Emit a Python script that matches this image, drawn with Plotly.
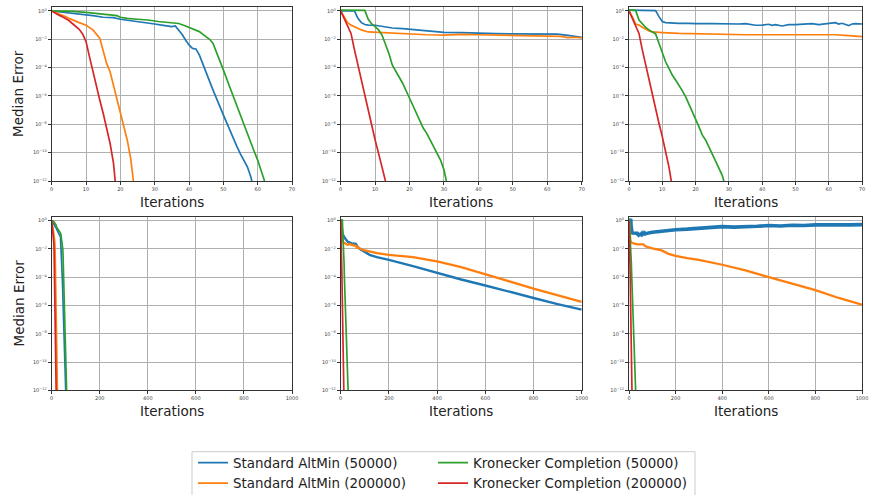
import plotly.graph_objects as go

# ---------------- data ----------------
SERIES = ["Standard AltMin (50000)", "Standard AltMin (200000)",
          "Kronecker Completion (50000)", "Kronecker Completion (200000)"]
COLORS = ["#1f77b4", "#ff7f0e", "#2ca02c", "#d62728"]
LEGEND_OF = ["legend", "legend", "legend2", "legend2"]

# column 1
c1_blue_x = [0, 2, 4, 6, 8, 10, 12, 15, 18, 20, 23, 25, 28, 30, 33, 35, 36, 37, 38, 39, 40, 41, 42, 43,
             45, 47, 50, 52, 54, 55, 56, 57, 58, 58.3]
c1_blue_y = [1.0, 0.9, 0.76, 0.69, 0.62, 0.58, 0.47, 0.36, 0.34, 0.26, 0.21, 0.19, 0.15, 0.12, 0.092,
             0.079, 0.087, 0.046, 0.022, 8.9e-3, 4.0e-3, 2.3e-3, 2.1e-3, 7.9e-4, 4.0e-5, 2.6e-6, 4.6e-8,
             3.0e-9, 2.6e-10, 8.0e-11, 2.5e-11, 1.0e-11, 2.0e-12, 1.0e-12]
c1_orange_x = [0, 1, 2, 3, 4, 5, 6, 7, 8, 10, 12, 14, 15, 16, 17, 18, 19, 20, 21, 22, 23, 23.8]
c1_orange_y = [1.0, 0.85, 0.62, 0.52, 0.4, 0.3, 0.23, 0.18, 0.15, 0.098, 0.046, 0.012, 1.3e-3, 2.0e-4,
               5.2e-5, 6.0e-6, 6.9e-7, 6.0e-8, 6.9e-9, 7.9e-10, 4.0e-11, 1.0e-12]
c1_green_x = [0, 3, 6, 10, 13, 16, 19, 20, 22, 25, 28, 31, 34, 37, 39, 41, 43, 45, 46, 47, 48, 49, 50,
              52, 54, 55, 57, 59, 60, 61, 62]
c1_green_y = [1.0, 0.98, 0.93, 0.8, 0.69, 0.58, 0.47, 0.36, 0.3, 0.26, 0.23, 0.18, 0.16, 0.13, 0.087,
              0.054, 0.035, 0.015, 0.01, 5.2e-3, 1.3e-3, 2.6e-4, 6.9e-5, 3.5e-6, 1.8e-7, 3.5e-8, 1.8e-9,
              1.2e-10, 3.0e-11, 6.0e-12, 1.0e-12]
c1_red_x = [0, 1, 2, 3, 4, 5, 6, 7, 8, 9, 10, 11, 12, 13, 14, 15, 16, 17, 18, 18.5]
c1_red_y = [1.0, 0.69, 0.52, 0.4, 0.3, 0.21, 0.13, 0.087, 0.051, 0.024, 6.9e-3, 6.0e-4, 5.2e-5, 4.6e-6,
            5.2e-7, 6.0e-8, 5.2e-9, 4.6e-10, 1.8e-11, 1.0e-12]

# column 2
c2_blue_x = [0, 2, 4, 5, 6, 7, 8, 10, 12, 15, 18, 20, 25, 30, 35, 40, 45, 50, 55, 60, 63, 66, 70,
             80, 100, 120, 150, 200, 300, 400, 500, 600, 700, 800, 900, 1000]
c2_blue_y = [1.0, 1.0, 1.0, 0.3, 0.15, 0.11, 0.1, 0.098, 0.079, 0.063, 0.056, 0.051, 0.039, 0.031,
             0.03, 0.026, 0.025, 0.024, 0.024, 0.023, 0.023, 0.019, 0.014,
             0.01, 6.6e-3, 3.8e-3, 2.6e-3, 1.7e-3, 6.0e-4, 2.0e-4, 6.9e-5, 2.6e-5, 8.9e-6, 3.4e-6,
             1.26e-6, 5.1e-7]
c2_orange_x = [0, 1, 2, 3, 4, 5, 6, 8, 10, 15, 20, 25, 30, 35, 40, 45, 50, 55, 60, 64, 66, 68, 70,
               100, 150, 200, 300, 400, 500, 600, 700, 800, 900, 1000]
c2_orange_y = [1.0, 0.4, 0.15, 0.1, 0.079, 0.06, 0.046, 0.033, 0.031, 0.026, 0.024, 0.021, 0.02, 0.022,
               0.021, 0.02, 0.019, 0.019, 0.017, 0.016, 0.013, 0.014, 0.0125,
               7.8e-3, 5.0e-3, 3.8e-3, 2.6e-3, 1.3e-3, 5.1e-4, 1.7e-4, 5.0e-5, 1.55e-5, 5.2e-6, 1.8e-6]
c2_green_x = [0, 2, 5, 7, 8, 9, 10, 11, 12, 13, 14, 15, 16, 17, 18, 20, 22, 24, 25, 27, 29, 30, 30.7]
c2_green_y = [1.15, 1.15, 1.15, 1.1, 0.26, 0.12, 0.079, 0.046, 0.02, 5.2e-3, 1.0e-3, 1.5e-4, 5.2e-5,
              2.1e-5, 7.9e-6, 6.9e-7, 6.0e-8, 5.2e-9, 2.3e-9, 2.6e-10, 3.0e-11, 6.0e-12, 1.0e-12]
c2_red_x = [0, 1, 2, 3, 4, 5, 6, 7, 8, 9, 10, 11, 12, 13]
c2_red_y = [1.0, 0.3, 0.1, 0.026, 1.8e-3, 1.5e-4, 1.3e-5, 8.9e-7, 7.9e-8, 8.9e-9, 7.9e-10, 8.9e-11,
            1.0e-11, 1.0e-12]

# column 3
c3_blue_x = [0, 2, 5, 8, 9, 10, 11, 13, 15, 18, 20, 25, 28, 30, 33, 35, 36, 38, 40, 42, 43, 44, 46, 48,
             50, 52, 55, 57, 59, 60, 62, 63, 64, 66, 67, 68, 70,
             100, 150, 200, 250, 300, 350, 400, 450, 500, 550, 600, 650, 700, 750, 800, 850, 900, 950,
             1000]
c3_blue_y = [1.15, 1.15, 1.15, 1.05, 0.4, 0.18, 0.15, 0.14, 0.135, 0.135, 0.128, 0.128, 0.12, 0.12,
             0.12, 0.128, 0.115, 0.098, 0.1, 0.115, 0.098, 0.11, 0.087, 0.11, 0.107, 0.115, 0.128,
             0.11, 0.12, 0.128, 0.15, 0.12, 0.135, 0.092, 0.12, 0.128, 0.12,
             0.15, 0.2, 0.23, 0.25, 0.29, 0.32, 0.38, 0.35, 0.4, 0.4, 0.45, 0.42, 0.47, 0.45, 0.5, 0.47,
             0.5, 0.5, 0.52]
c3_orange_x = [0, 1, 2, 3, 4, 5, 6, 7, 8, 10, 15, 20, 25, 30, 35, 40, 45, 50, 55, 60, 62, 65, 68, 70,
               100, 140, 170, 200, 250, 300, 400, 500, 600, 700, 800, 900, 1000]
c3_orange_y = [1.0, 0.4, 0.12, 0.1, 0.07, 0.051, 0.039, 0.033, 0.031, 0.03, 0.026, 0.024, 0.024, 0.022,
               0.021, 0.021, 0.021, 0.02, 0.021, 0.022, 0.021, 0.019, 0.017, 0.0155,
               0.011, 7.9e-3, 4.5e-3, 3.2e-3, 2.2e-3, 1.7e-3, 7.6e-4, 3.0e-4, 1.0e-4, 3.5e-5, 1.2e-5,
               3.4e-6, 1.15e-6]
c3_green_x = [0, 1, 2, 3, 4, 5, 6, 7, 8, 9, 10, 11, 12, 13, 14, 15, 16, 17, 18, 19, 20, 21, 22, 23, 24,
              25, 26, 27, 28, 28.5]
c3_green_y = [1.15, 1.15, 1.1, 0.23, 0.12, 0.07, 0.046, 0.031, 0.024, 5.2e-3, 1.0e-3, 2.6e-4, 8.9e-5,
              3.0e-5, 1.35e-5, 6.0e-6, 2.4e-6, 8.9e-7, 2.7e-7, 9.1e-8, 2.6e-8, 6.9e-9, 1.8e-9, 7.9e-10,
              2.6e-10, 8.9e-11, 3.0e-11, 8.0e-12, 2.5e-12, 1.0e-12]
c3_red_x = [0, 1, 2, 3, 4, 5, 6, 7, 8, 9, 10, 11, 12, 12.7]
c3_red_y = [1.0, 0.3, 0.1, 0.026, 1.8e-3, 1.5e-4, 1.3e-5, 1.2e-6, 1.0e-7, 1.2e-8, 1.35e-9, 1.2e-10,
            1.0e-11, 1.0e-12]

COLUMNS = [
    [(c1_blue_x, c1_blue_y), (c1_orange_x, c1_orange_y), (c1_green_x, c1_green_y), (c1_red_x, c1_red_y)],
    [(c2_blue_x, c2_blue_y), (c2_orange_x, c2_orange_y), (c2_green_x, c2_green_y), (c2_red_x, c2_red_y)],
    [(c3_blue_x, c3_blue_y), (c3_orange_x, c3_orange_y), (c3_green_x, c3_green_y), (c3_red_x, c3_red_y)],
]

TOP_X_TICKS = [0, 10, 20, 30, 40, 50, 60, 70]
BOTTOM_X_TICKS = [0, 200, 400, 600, 800, 1000]
Y_TICKVALS = [1, 1e-2, 1e-4, 1e-6, 1e-8, 1e-10, 1e-12]
Y_TICKTEXT = ["10<sup>0</sup>", "10<sup>−2</sup>", "10<sup>−4</sup>", "10<sup>−6</sup>",
              "10<sup>−8</sup>", "10<sup>−10</sup>", "10<sup>−12</sup>"]
X_TITLE = "Iterations"
Y_TITLE = "Median Error"

# ---------------- layout geometry ----------------
W, H = 870, 495
X_DOMAINS = [(51.7, 292.0), (340.7, 581.7), (629.0, 862.0)]
Y_DOMAINS = [(7.0, 181.0), (216.7, 390.3)]  # pixels from top
# bottom-row line widths (noisy bands look thicker)
BOTTOM_WIDTHS = [[1.7, 1.7, 1.7, 1.7], [2.4, 2.3, 1.7, 1.7], [3.6, 2.3, 1.7, 1.7]]

FONT = "DejaVu Sans"
fig = go.Figure()
layout_axes = {}
for r in range(2):
    for c in range(3):
        k = r * 3 + c + 1
        xa = "x" if k == 1 else f"x{k}"
        ya = "y" if k == 1 else f"y{k}"
        for s in range(4):
            xs, ys = COLUMNS[c][s]
            width = 1.7 if r == 0 else BOTTOM_WIDTHS[c][s]
            fig.add_trace(go.Scatter(
                x=xs, y=ys, mode="lines", name=SERIES[s],
                line=dict(color=COLORS[s], width=width),
                showlegend=(k == 1), legend=LEGEND_OF[s],
                xaxis=xa, yaxis=ya, hoverinfo="skip"))
        x0, x1 = X_DOMAINS[c]
        yt, yb = Y_DOMAINS[r]
        common = dict(showgrid=True, gridcolor="#b0b0b0", gridwidth=0.8,
                      showline=True, linecolor="#333333", linewidth=1, mirror=True,
                      ticks="outside", ticklen=3, tickwidth=0.8, tickcolor="#333333",
                      tickfont=dict(family=FONT, size=5, color="#444444"), zeroline=False)
        layout_axes["xaxis" if k == 1 else f"xaxis{k}"] = dict(
            domain=[x0 / W, x1 / W], anchor=ya,
            range=[0, 70] if r == 0 else [0, 1000],
            tickvals=TOP_X_TICKS if r == 0 else BOTTOM_X_TICKS,
            **common)
        layout_axes["yaxis" if k == 1 else f"yaxis{k}"] = dict(
            domain=[1 - yb / H, 1 - yt / H], anchor=xa, type="log",
            range=[-12, 0.28], tickvals=Y_TICKVALS, ticktext=Y_TICKTEXT,
            **common)

annotations = []
for r in range(2):
    yt, yb = Y_DOMAINS[r]
    for c in range(3):
        x0, x1 = X_DOMAINS[c]
        annotations.append(dict(text=X_TITLE, xref="paper", yref="paper",
                                x=(x0 + x1) / 2 / W, y=1 - (yb + 21) / H,
                                xanchor="center", yanchor="middle", showarrow=False,
                                font=dict(family=FONT, size=13.5, color="#222222")))
    annotations.append(dict(text=Y_TITLE, xref="paper", yref="paper", textangle=-90,
                            x=18 / W, y=1 - (yt + yb) / 2 / H,
                            xanchor="center", yanchor="middle", showarrow=False,
                            font=dict(family=FONT, size=13.5, color="#222222")))

legend_common = dict(orientation="v", yanchor="top", xanchor="left",
                     font=dict(family=FONT, size=13.4, color="#222222"),
                     bgcolor="rgba(0,0,0,0)", borderwidth=0, tracegroupgap=0)

fig.update_layout(
    width=W, height=H, margin=dict(l=0, r=0, t=0, b=0, autoexpand=False),
    paper_bgcolor="white", plot_bgcolor="white",
    annotations=annotations,
    shapes=[dict(type="rect", xref="paper", yref="paper",
                 x0=192 / W, x1=695 / W, y0=1 - 510 / H, y1=1 - 451.7 / H,
                 line=dict(color="#cccccc", width=1), fillcolor="white", layer="below")],
    legend=dict(x=193 / W, y=1 - 447.5 / H, **legend_common),
    legend2=dict(x=433 / W, y=1 - 447.5 / H, **legend_common),
    **layout_axes)

# remove the browser's default 8px page margin so the figure sits at the window origin
fig.write_html("out.html", config={"displayModeBar": False},
               post_script="document.body.style.margin='0px';document.body.style.overflow='hidden';")
